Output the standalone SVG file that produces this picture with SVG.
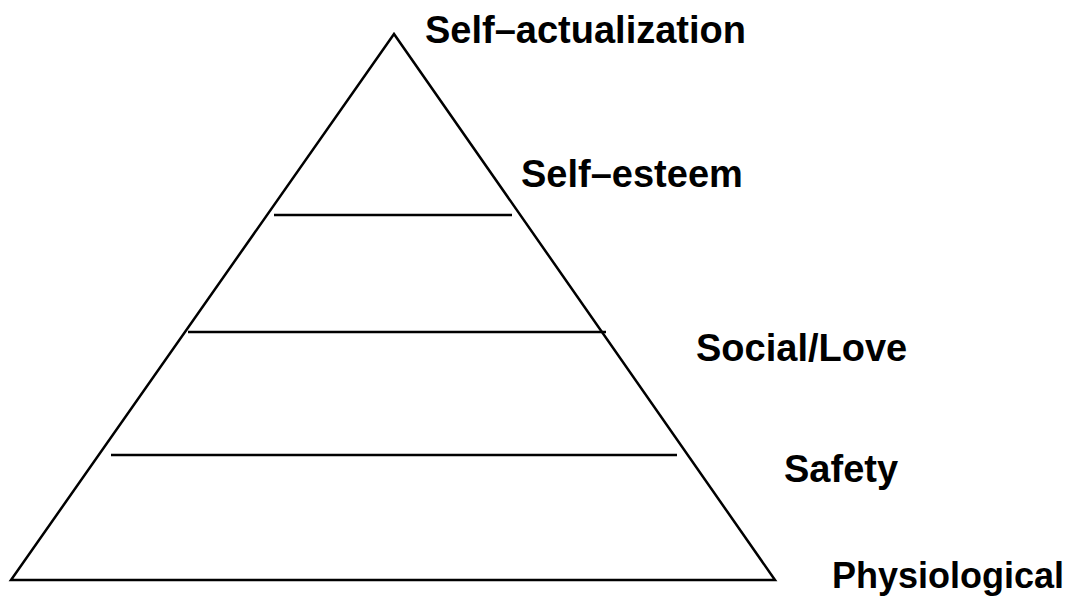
<svg xmlns="http://www.w3.org/2000/svg" width="1072" height="597" viewBox="0 0 1072 597">
<style>
.edge{stroke:#000;stroke-width:2.5;fill:none;stroke-linejoin:miter}
.lbl{font-family:"Liberation Sans",Arial,sans-serif;font-weight:bold;font-size:38px;fill:#000}
.sm{font-size:36px}
</style>
<rect width="1072" height="597" fill="#fff"/>
<g id="pyramid">
<polygon class="edge" points="394,34 11,580 775,580"/>
</g>
<g id="connectors">
<line class="edge" x1="274" y1="215" x2="512" y2="215"/>
<line class="edge" x1="188" y1="332" x2="606" y2="332"/>
<line class="edge" x1="111" y1="455" x2="677" y2="455"/>
</g>
<g id="self-actualization"><text class="lbl" x="425" y="43">Self–actualization</text></g>
<g id="self-esteem"><text class="lbl" x="521" y="187">Self–esteem</text></g>
<g id="social-love"><text class="lbl" x="696" y="361">Social/Love</text></g>
<g id="safety"><text class="lbl" x="784" y="482">Safety</text></g>
<g id="physiological"><text class="lbl sm" x="832" y="588">Physiological</text></g>
</svg>
